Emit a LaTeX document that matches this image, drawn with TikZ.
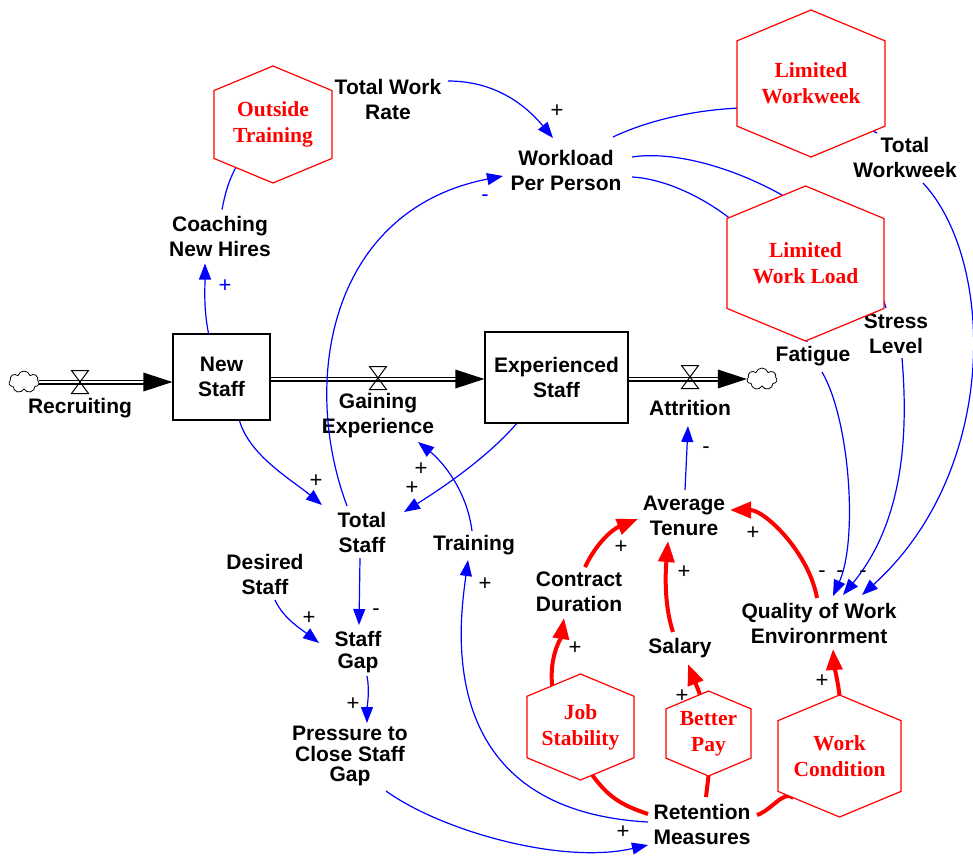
\documentclass[tikz,border=0pt]{standalone}
\usepackage{fontspec}
\setmainfont{Liberation Sans}
\newfontfamily\hexfont{Liberation Serif}
\usetikzlibrary{arrows.meta,calc,shapes.symbols}
\pgfdeclarelayer{fg}
\pgfsetlayers{main,fg}
\newcommand\myhexa[6]{%
 \pgfmathsetmacro\myHxa{#2-#4/2}\pgfmathsetmacro\myHxb{#2+#4/2}%
 \pgfmathsetmacro\myHya{#3-#5/2}\pgfmathsetmacro\myHyb{#3-0.29*#5}%
 \pgfmathsetmacro\myHyc{#3+0.29*#5}\pgfmathsetmacro\myHyd{#3+#5/2}%
 \coordinate (#1-t) at (#2,\myHya);
 \coordinate (#1-ur) at (\myHxb,\myHyb);
 \coordinate (#1-lr) at (\myHxb,\myHyc);
 \coordinate (#1-b) at (#2,\myHyd);
 \coordinate (#1-ll) at (\myHxa,\myHyc);
 \coordinate (#1-ul) at (\myHxa,\myHyb);
 \begin{pgfonlayer}{fg}
 \draw[hexline] (#1-t) -- (#1-ur) -- (#1-lr) -- (#1-b) -- (#1-ll) -- (#1-ul) -- cycle;
 \node[hextext] (#1) at (#2,#3) {#6};
 \end{pgfonlayer}}
\begin{document}
\begin{tikzpicture}[x=1pt,y=-1pt,
  lbl/.style={font=\bfseries\fontsize{21}{25}\selectfont, align=center, inner sep=1pt},
  sgn/.style={font=\fontsize{22}{22}\selectfont, inner sep=0},
  hexline/.style={draw=red, fill=white, line width=1.2pt},
  hextext/.style={font=\hexfont\bfseries\fontsize{21.5}{26}\selectfont, text=red, align=center, inner sep=0},
  blink/.style={draw=blue, line width=1.2pt, -{Triangle[length=16pt,width=12pt]}},
  bline/.style={draw=blue, line width=1.2pt},
  rlink/.style={draw=red, line width=4pt, -{Triangle[length=21pt,width=16pt]}},
  rline/.style={draw=red, line width=4pt},
  stock/.style={draw, line width=1.3pt, fill=white, inner sep=0, align=center, font=\bfseries\fontsize{21}{25}\selectfont},
  pipe/.style={double, double distance=2.4pt, line width=1.3pt},
  valve/.style={draw, line width=1pt},
  cloudy/.style={cloud, draw, cloud puffs=7, minimum width=30pt, minimum height=22pt, inner sep=0, line width=0.8pt}
]
\useasboundingbox[fill=white] (0,0) rectangle (973,856);

% ---------- stocks
\node[stock, minimum width=97pt, minimum height=86pt] (ns) at (221.5,377) {New\\Staff};
\node[stock, minimum width=143pt, minimum height=91pt] (es) at (556.5,377.5) {Experienced\\Staff};

% ---------- clouds and flows
\node[cloudy] (c1) at (24,382) {};
\node[cloudy] (c2) at (762,379) {};

\coordinate (r1) at (c1.east -| ns.west);
\draw[pipe] (c1.east) -- ($(r1)+(-27,0)$);
\fill ($(r1)+(-29,-9.5)$) -- (r1) -- ($(r1)+(-29,9.5)$) -- cycle;
\coordinate (v1) at (80,382);
\draw[valve] ($(v1)+(-8.5,-11.5)$) -- ($(v1)+(8.5,-11.5)$) -- ($(v1)+(-8.5,11.5)$) -- ($(v1)+(8.5,11.5)$) -- cycle;

\coordinate (g0) at ($(ns.east)+(0,2)$);
\coordinate (g1) at (g0 -| es.west);
\draw[pipe] (g0) -- ($(g1)+(-27,0)$);
\fill ($(g1)+(-29,-9.5)$) -- (g1) -- ($(g1)+(-29,9.5)$) -- cycle;
\coordinate (v2) at (378,378);
\draw[valve] ($(v2)+(-8.5,-11.5)$) -- ($(v2)+(8.5,-11.5)$) -- ($(v2)+(-8.5,11.5)$) -- ($(v2)+(8.5,11.5)$) -- cycle;

\coordinate (a0) at ($(es.east)+(0,1.5)$);
\coordinate (a1) at (a0 -| c2.west);
\draw[pipe] (a0) -- ($(a1)+(-27,0)$);
\fill ($(a1)+(-29,-9.5)$) -- (a1) -- ($(a1)+(-29,9.5)$) -- cycle;
\coordinate (v3) at (690,377);
\draw[valve] ($(v3)+(-8.5,-11.5)$) -- ($(v3)+(8.5,-11.5)$) -- ($(v3)+(-8.5,11.5)$) -- ($(v3)+(8.5,11.5)$) -- cycle;

% ---------- variables
\node[lbl] (rec) at (80,408) {Recruiting};
\node[lbl] (ge) at (378,416) {Gaining\\Experience};
\node[lbl] (att) at (690,408) {Attrition};
\node[lbl] (twr) at (388,99) {Total Work\\Rate};
\node[lbl] (wl) at (566,170) {Workload\\Per Person};
\node[lbl] (cnh) at (220,236.5) {Coaching\\New Hires};
\node[lbl] (tww) at (905,157) {Total\\Workweek};
\node[lbl] (sl) at (896,334) {Stress\\Level};
\node[lbl] (fat) at (813,356) {Fatigue};
\node[lbl] (ts) at (362,532) {Total\\Staff};
\node[lbl] (ds) at (265,574) {Desired\\Staff};
\node[lbl, font=\bfseries\fontsize{21}{22}\selectfont] (sg) at (358,652) {Staff\\Gap};
\node[lbl, font=\bfseries\fontsize{21}{20.5}\selectfont] (pcsg) at (350,756) {Pressure to\\Close Staff\\Gap};
\node[lbl] (tr) at (474,545) {Training};
\node[lbl] (at) at (684,516) {Average\\Tenure};
\node[lbl] (cd) at (579,592) {Contract\\Duration};
\node[lbl] (sal) at (680,648) {Salary};
\node[lbl] (qwe) at (819,623) {Quality of Work\\Environrment};
\node[lbl] (rm) at (702,824) {Retention\\Measures};

% ---------- hexagons (drawn on the foreground layer)
\myhexa{ot}{273}{124.5}{118}{117}{Outside\\Training}
\myhexa{lww}{811}{83.5}{148}{147}{Limited\\Workweek}
\myhexa{lwl}{805.5}{263.5}{157}{155}{Limited\\Work Load}
\myhexa{js}{580.5}{727}{107}{106}{Job\\Stability}
\myhexa{bp}{708.5}{733.5}{85}{85}{Better\\Pay}
\myhexa{wc}{839.5}{756}{123}{122}{Work\\Condition}

% ---------- blue causal links
\draw[blink] ($(ns.north)+(-13,0)$) .. controls +(-5,-25) and +(0,25) .. ($(cnh)+(-15,27)$);
\draw[bline] ($(ot-ll)!0.37!(ot-b)$) .. controls +(-8,15) and +(3,-15) .. ($(cnh)+(2,-27)$);
\draw[blink] ($(twr)+(60,-18)$) .. controls +(50,0) and +(-25,-30) .. ($(wl)+(-13,-32)$);
\draw[blink] ($(ts)+(-15,-26)$) .. controls +(-47,-126) and +(-173,34) .. ($(wl)+(-63,6)$);
\draw[bline] ($(wl)+(47,-33)$) .. controls +(67,-32) and +(-80,-40) .. ($(tww)+(-28,-24)$);
\draw[bline] ($(wl)+(66,-13)$) .. controls +(78,-12) and +(-26,-93) .. ($(sl)+(-10,-26)$);
\draw[bline] ($(wl)+(66,7)$) .. controls +(58,3) and +(-17,-102) .. ($(fat)+(-6,-14)$);
\draw[blink] ($(tww)+(18,26)$) .. controls (995,260) and (1000,470) .. ($(qwe)+(43,-28)$);
\draw[blink] ($(sl)+(6,24)$) .. controls +(6,72) and +(62,-75) .. ($(qwe)+(24,-28)$);
\draw[blink] ($(fat)+(9,16)$) .. controls +(28,48) and +(25,-56) .. ($(qwe)+(14,-27)$);
\draw[blink] ($(at)+(1,-26)$) -- ($(att)+(-2,18)$);
\draw[blink] ($(ns.south)+(18,0)$) .. controls +(10,35) and +(-30,-25) .. ($(ts)+(-40,-27)$);
\draw[blink] ($(es.south)+(-40,0)$) .. controls +(-30,35) and +(35,-22) .. ($(ts)+(42,-20)$);
\draw[blink] ($(tr)+(-2,-14)$) .. controls +(-5,-40) and +(25,20) .. ($(ge)+(40,26)$);
\draw[blink] ($(ts)+(-2,26)$) -- ($(sg)+(1,-27)$);
\draw[blink] ($(ds)+(10,26)$) .. controls +(8,18) and +(-18,-14) .. ($(sg)+(-39,-9)$);
\draw[blink] ($(sg)+(9,24)$) .. controls +(3,15) and +(0,-15) .. ($(pcsg)+(17,-33)$);
\draw[blink] ($(pcsg)+(36,35)$) .. controls (440,830) and (560,865) .. ($(rm)+(-54,21)$);
\draw[blink] ($(rm)+(-54,-2)$) .. controls (430,810) and (460,620) .. ($(tr)+(-6,15)$);

% ---------- red links
\draw[rlink] ($(js-ul)!0.47!(js-t)$) .. controls +(-3,-30) and +(-3,20) .. ($(cd)+(-15,26)$);
\draw[rlink] ($(cd)+(6,-25)$) .. controls +(12,-25) and +(-25,10) .. ($(at)+(-46,3)$);
\draw[rlink] ($(sal)+(-7,-16)$) .. controls +(-10,-30) and +(-2,25) .. ($(at)+(-16,25)$);
\draw[rlink] ($(qwe)+(-2,-25)$) .. controls +(-8,-45) and +(35,0) .. ($(at)+(46,-6)$);
\draw[rlink] ($(bp-ul)!0.8!(bp-t)$) -- ($(sal)+(8,16)$);
\draw[rlink] (wc-t) .. controls +(-2,-15) and +(1,15) .. ($(qwe)+(14,26)$);
\draw[rline] ($(rm)+(-54,-10)$) .. controls +(-30,-10) and +(15,20) .. ($(js-lr)!0.78!(js-b)$);
\draw[rline] ($(rm)+(4,-27)$) -- (bp-b);
\draw[rline] ($(rm)+(55,-9)$) .. controls +(15,-5) and +(-10,-8) .. ($(wc-ll)!0.25!(wc-b)$);

% ---------- polarity signs
\node[sgn, text=blue] (s1) at (225,286) {+};
\node[sgn] (s2) at (557,111) {+};
\node[sgn, text=blue] (s3) at (485,198) {-};
\node[sgn] (s4) at (316,481) {+};
\node[sgn] (s5) at (412,488) {+};
\node[sgn] (s6) at (421,469) {+};
\node[sgn] (s7) at (376,612) {-};
\node[sgn] (s8) at (309,618) {+};
\node[sgn] (s9) at (353,704) {+};
\node[sgn] (s10) at (623,832) {+};
\node[sgn] (s11) at (485,584) {+};
\node[sgn] (s12) at (706,450) {-};
\node[sgn] (s13) at (822,574) {-};
\node[sgn] (s14) at (840,574) {-};
\node[sgn] (s15) at (863,574) {-};
\node[sgn] (s16) at (575,648) {+};
\node[sgn] (s17) at (621,547) {+};
\node[sgn] (s18) at (684,572) {+};
\node[sgn] (s19) at (753,533) {+};
\node[sgn] (s20) at (682,696) {+};
\node[sgn] (s21) at (822,681) {+};
\end{tikzpicture}
\end{document}
